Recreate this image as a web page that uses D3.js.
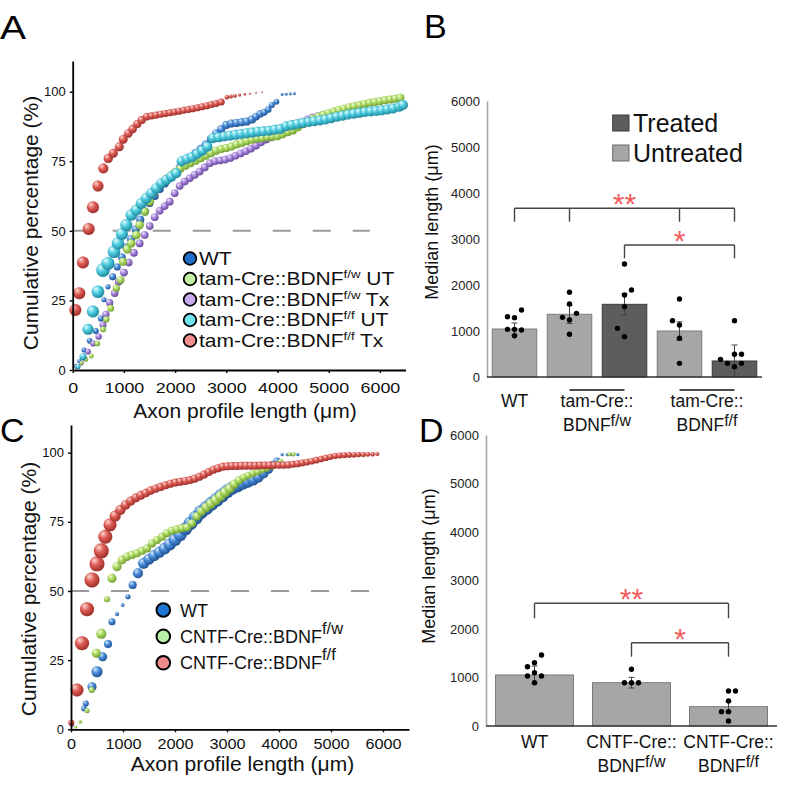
<!DOCTYPE html>
<html><head><meta charset="utf-8">
<script src="https://cdn.jsdelivr.net/npm/d3@7"></script>
<style>body{margin:0;background:#fff}svg{display:block;font-family:"Liberation Sans",Arial,Helvetica,sans-serif}</style>
</head><body><svg id="fig" width="800" height="787"></svg>
<script>
// ---------------- DATA ----------------
// Panel A : cumulative distributions  [length (um), cumulative %, bubble size]
const aWT = [[60,1.5,2],[130,3.2,2.2],[221,7.2,2.5],[330,10.5,2.8],[450,14.0,3],[550,18.5,3],[611,25.2,2.5],[689,29.9,2.5],[780,33.5,3.5],[870,37.0,3.5],[960,40.5,3.8],[1050,44.0,4],[1140,47.0,4],[1230,50.5,4],[1320,54.0,4],[1410,57.0,4],[1500,60.0,4],[1600,62.5,4],[1700,65.0,4],[1800,67.0,4],[1900,69.0,4],[2000,71.0,4],[2100,73.0,4],[2200,75.0,4],[2300,76.5,4],[2400,78.0,4],[2500,79.5,4],[2600,81.0,4],[2700,83.0,4],[2800,85.0,4],[2900,86.5,4],[3000,88.0,4],[3100,88.6,4],[3200,88.8,4],[3300,89.0,4],[3400,89.3,4],[3500,90.0,4],[3580,91.0,3.8],[3660,92.0,3.6],[3740,92.6,3.4],[3820,93.6,3.2],[3890,95.2,3],[3980,96.4,2.8],[4090,99.0,1.4],[4170,99.1,1.4],[4250,99.2,1.4],[4330,99.3,1.4]];
const aFwUT = [[90,1.0,1.8],[170,2.5,2],[260,3.8,2.2],[364,5.0,2.4],[480,9.5,2.8],[592,14.6,3],[657,18.2,3.2],[742,22.2,3.4],[852,29.4,3.6],[937,32.3,3.8],[982,38.9,4],[1066,43.4,4.2],[1145,45.5,4.2],[1243,48.5,4.2],[1308,52.1,4.2],[1406,56.9,4.2],[1504,60.5,4.2],[1568,63.5,4.2],[1650,65.5,4],[1740,67.3,4],[1830,68.8,4],[1920,70.0,4],[2010,71.2,4],[2100,72.3,4],[2200,73.4,4],[2300,74.3,4],[2400,75.2,4],[2500,76.1,4],[2600,77.0,4],[2700,77.9,4],[2800,78.8,4],[2900,79.4,4],[3000,79.8,4],[3100,80.3,4],[3200,81.0,4],[3300,81.6,4],[3400,82.2,4],[3500,82.7,4],[3600,83.1,4],[3700,83.3,4],[3800,83.6,4],[3900,83.8,4],[4000,84.0,4],[4100,84.7,4],[4200,85.4,4],[4300,86.1,4],[4400,87.2,4],[4500,88.3,4],[4600,89.4,4],[4700,90.3,4],[4800,91.0,4],[4900,91.7,4],[5000,92.3,4],[5100,92.9,4],[5200,93.4,4],[5300,93.9,4],[5400,94.4,4],[5500,94.8,4],[5600,95.2,4],[5700,95.6,4],[5800,96.0,4],[5900,96.3,4],[6000,96.6,4],[6100,96.9,4],[6200,97.2,4],[6300,97.5,4],[6400,97.8,4]];
const aFwTx = [[70,1.0,1.8],[168,2.4,2.2],[240,4.0,2.5],[299,6.6,2.8],[400,9.5,3],[507,12.0,3.2],[592,16.2,3.4],[650,20.0,3.5],[722,24.2,3.6],[820,27.6,3.7],[898,31.7,3.8],[1002,35.0,3.8],[1094,38.6,3.8],[1197,42.1,3.8],[1308,45.5,3.8],[1406,48.5,3.8],[1504,51.7,3.8],[1602,54.9,3.8],[1699,57.2,3.8],[1797,58.9,3.8],[1895,60.5,3.8],[1992,63.5,3.8],[2090,66.1,3.8],[2188,67.7,3.8],[2285,68.9,3.8],[2383,70.1,3.8],[2480,71.3,3.8],[2580,72.8,3.8],[2680,74.3,3.8],[2780,75.0,3.8],[2880,75.3,3.8],[2980,75.6,3.8],[3080,76.2,3.8],[3180,77.0,3.8],[3280,77.8,3.8],[3380,78.6,3.8],[3480,79.5,3.8],[3580,80.6,3.8],[3680,81.8,3.8],[3780,82.8,3.8],[3880,83.6,3.8],[3980,84.3,3.8],[4080,85.2,3.8],[4180,86.2,3.8],[4280,87.2,3.8],[4380,88.2,3.8],[4480,89.2,3.8],[4580,90.0,3.8],[4680,90.7,3.8],[4780,91.2,3.8],[4880,91.6,3.8],[4980,92.0,3.8],[5080,92.3,3.8],[5180,92.6,3.8],[5300,92.9,3.8]];
const aFfUT = [[104,1.2,2.5],[201,4.8,3.5],[299,14.6,5.5],[396,21.0,6],[494,28.1,6.3],[592,35.9,6.8],[689,38.3,6.5],[807,42.5,6.3],[885,45.5,6.2],[963,48.9,6],[1047,52.1,6],[1145,55.7,5.8],[1243,57.5,5.6],[1340,59.9,5.5],[1438,61.7,5.4],[1535,63.5,5.3],[1633,65.3,5.2],[1730,67.1,5.1],[1828,68.3,5],[1926,69.5,5],[2023,70.7,5],[2129,75.0,5],[2230,75.8,5],[2330,76.5,5],[2430,77.6,5],[2530,78.8,5],[2630,80.2,5],[2740,83.3,5],[2850,83.6,5],[2960,83.9,5],[3070,84.2,5],[3180,84.5,5],[3290,84.8,5],[3400,85.1,5],[3510,85.3,5],[3620,85.6,5],[3730,85.8,5],[3840,86.0,5],[3950,86.3,5],[4060,86.6,5],[4170,87.6,5],[4280,88.0,5],[4390,88.4,5],[4500,88.8,5],[4610,89.1,5],[4720,89.4,5],[4830,89.7,5],[4940,90.0,5],[5050,90.5,5],[5160,91.0,5],[5270,91.4,5],[5380,91.8,5],[5490,92.1,5],[5600,92.4,5],[5710,92.7,5],[5820,92.9,5],[5930,93.1,5],[6040,93.3,5],[6150,93.6,5],[6260,94.0,5],[6380,94.6,5],[6450,95.2,5]];
const aFfTx = [[52,21.6,6],[129,27.6,6],[201,38.6,6],[312,50.7,6],[396,58.5,6],[494,66.1,5.5],[598,72.4,5],[695,76.0,4.6],[793,77.9,4.5],[910,80.2,4.5],[988,82.9,4.4],[1086,85.0,4.3],[1172,86.6,4.2],[1262,88.4,4],[1348,89.8,4],[1445,91.0,3.8],[1540,91.3,3.6],[1630,91.6,3.6],[1720,91.9,3.5],[1810,92.2,3.5],[1900,92.4,3.5],[1990,92.7,3.5],[2080,93.0,3.5],[2170,93.3,3.5],[2260,93.6,3.5],[2350,93.9,3.5],[2440,94.2,3.5],[2530,94.6,3.5],[2620,95.0,3.5],[2710,95.4,3.5],[2800,95.8,3.5],[2900,96.3,3.5],[3010,98.0,2.2],[3090,98.3,2],[3170,98.5,1.8],[3260,98.8,1.5],[3360,99.1,1.2],[3460,99.3,1],[3580,99.6,0.9],[3700,99.8,0.8]];

// Panel C : cumulative distributions
const cWT = [[19,1.6,2],[250,7.5,2.8],[285,9.3,3],[404,15.4,4.5],[500,20.8,5.5],[609,26.2,4.5],[712,30.8,4],[788,38.9,3.5],[885,41.7,2],[994,44.9,1.8],[1096,47.9,2.5],[1186,52.2,4],[1288,56.4,5],[1397,60.0,5.5],[1500,61.5,5.5],[1600,62.8,5.5],[1700,64.0,5.5],[1800,65.3,5.8],[1900,66.8,6],[2000,68.5,6.2],[2100,70.3,6.4],[2200,72.5,6.6],[2300,74.5,6.8],[2400,76.5,7],[2500,78.5,7],[2600,80.0,7],[2700,81.5,7],[2800,83.0,7],[2900,84.5,7],[3000,86.0,6.8],[3100,87.2,6.6],[3200,88.0,6.4],[3300,88.8,6.2],[3400,89.5,6],[3500,90.2,5.8],[3600,91.2,5.5],[3700,92.5,5],[3800,94.0,4.5],[3880,95.5,4],[3960,97.0,3.5],[4060,99.3,1.6],[4160,99.3,1.6],[4260,99.3,1.6],[4360,99.3,1.6]];
const cFw = [[90,0.8,1.5],[179,2.7,1.8],[308,6.7,2.5],[398,14.2,3],[487,27.5,4.5],[583,34.5,5],[692,47.0,3],[788,54.6,4.5],[885,58.8,4.5],[981,61.2,4.3],[1077,62.4,4.2],[1173,63.0,4.1],[1269,63.6,4],[1365,64.5,4],[1462,65.4,4],[1558,67.2,4],[1654,68.4,4],[1750,69.6,4],[1846,70.9,4],[1942,71.8,4],[2038,72.3,4],[2135,72.7,4],[2231,73.0,4],[2327,74.5,4],[2420,77.0,4.2],[2510,78.8,4.4],[2600,80.2,4.6],[2690,81.5,4.8],[2780,82.8,5],[2870,84.2,5],[2960,85.6,5],[3050,87.0,4.8],[3140,88.6,4.5],[3230,90.0,4.2],[3320,91.0,3.8],[3410,91.8,3.6],[3500,92.5,3.5],[3590,93.1,3.4],[3680,93.7,3.3],[3770,94.3,3.2],[3860,95.0,3.1],[3950,95.8,3],[4030,96.7,2.8],[4200,99.4,2],[4280,99.4,2]];
const cFf = [[6,2.4,3],[115,14.2,6.5],[212,31.1,7],[308,43.4,7],[404,54.0,7.5],[500,59.8,7.5],[583,64.5,7.5],[660,69.6,7],[750,73.9,6.5],[850,77.1,5.5],[950,79.3,5],[1050,81.1,4.8],[1150,82.5,4.6],[1250,83.7,4.5],[1345,84.6,4.4],[1440,85.4,4.3],[1535,86.3,4.2],[1630,87.0,4.2],[1725,87.6,4.1],[1820,88.2,4],[1915,88.8,4],[2010,89.2,4],[2105,89.5,4],[2200,89.8,4],[2290,90.1,4],[2380,90.6,4],[2470,91.3,4],[2560,92.1,4],[2650,93.0,4],[2740,93.8,4],[2830,94.4,4],[2920,94.9,4],[3010,95.1,4],[3100,95.2,4],[3190,95.2,4],[3280,95.3,4],[3370,95.3,4],[3460,95.3,4],[3550,95.3,3.9],[3640,95.4,3.9],[3730,95.4,3.8],[3820,95.4,3.8],[3910,95.5,3.7],[4000,95.5,3.7],[4090,95.5,3.6],[4180,95.6,3.6],[4270,95.8,3.5],[4360,96.0,3.5],[4450,96.3,3.4],[4540,96.6,3.4],[4630,96.9,3.3],[4720,97.3,3.3],[4810,97.7,3.2],[4900,98.1,3.2],[4990,98.5,3.1],[5080,98.8,3],[5170,99.0,3],[5260,99.1,2.9],[5350,99.2,2.8],[5440,99.2,2.7],[5530,99.3,2.6],[5620,99.3,2.5],[5710,99.4,2.4],[5800,99.4,2.2],[5890,99.5,2]];

const cumTicksX = [0,1000,2000,3000,4000,5000,6000];
const cumTicksY = [0,25,50,75,100];

const legendANames = [["WT"],["tam-Cre::BDNF","f/w"," UT"],["tam-Cre::BDNF","f/w"," Tx"],["tam-Cre::BDNF","f/f"," UT"],["tam-Cre::BDNF","f/f"," Tx"]];
const legendCNames = [["WT"],["CNTF-Cre::BDNF","f/w"],["CNTF-Cre::BDNF","f/f"]];

// Panel B : medians
const bGroups = ["WT","tam-Cre::BDNFf/w UT","tam-Cre::BDNFf/w Tx","tam-Cre::BDNFf/f UT","tam-Cre::BDNFf/f Tx"];
const bTreated = [false,false,true,false,true];
const bMedian = [1043,1363,1580,1000,348];
const bError = [130,200,235,200,348];
// individual animals: [value, jitter slot]
const bDots = [
  [[1311,-1],[1290,0],[1457,1],[1036,-1],[1036,0],[1022,1],[898,0]],
  [[1841,0],[1587,0],[1297,-1],[1239,0],[1384,1],[928,0]],
  [[2457,0],[1891,1],[1783,0],[1529,0],[1058,-1],[877,0]],
  [[1696,0],[1225,-1],[1131,0],[841,0],[297,0]],
  [[1225,0],[384,-2],[297,-1],[493,0],[493,1],[225,0],[297,1]]
];
const bLabelTop = ["WT","tam-Cre::","tam-Cre::"];
const bLabelBase = ["","BDNF","BDNF"];
const bLabelSup = ["","f/w","f/f"];
const bLabelSpan = [[0,0],[1,2],[3,4]];
const bSig = [{from:0, to:4, mids:[1,3], level:3667, drop:3376, mark:"**"},
              {from:2, to:4, mids:[], level:2870, drop:2580, mark:"*"}];
const bLegend = ["Treated","Untreated"];

// Panel D : medians
const dGroups = ["WT","CNTF-Cre::BDNFf/w","CNTF-Cre::BDNFf/f"];
const dMedian = [1052,893,399];
const dError = [185,110,103];
const dDots = [
  [[1223,-1],[1306,0],[1464,1],[1031,-1],[1100,0],[1031,1],[893,0]],
  [[1169,0],[893,-1],[893,0],[893,1]],
  [[722,0],[722,1],[515,0],[296,-1],[296,0],[103,0]]
];
const dLabelTop = ["WT","CNTF-Cre::","CNTF-Cre::"];
const dLabelBase = ["","BDNF","BDNF"];
const dLabelSup = ["","f/w","f/f"];
const dSig = [{from:0, to:2, mids:[], level:2530, drop:2221, mark:"**"},
              {from:1, to:2, mids:[], level:1718, drop:1429, mark:"*"}];
const medianTicks = [0,1000,2000,3000,4000,5000,6000];

// ---------------- DRAW ----------------
const svg = d3.select("#fig");
const defs = svg.append("defs");
const sphere = {
  blue:   ["#d9eafc","#4a8edb","#1a4a88"],
  green:  ["#f3ffd6","#aedb66","#6a962a"],
  purple: ["#efe5ff","#a888dc","#5d3e92"],
  cyan:   ["#e4fdff","#4fcde0","#1a7f94"],
  red:    ["#ffd8d4","#dc5a53","#962a26"]
};
Object.entries(sphere).forEach(([k,c])=>{
  const g = defs.append("radialGradient").attr("id","sp_"+k)
    .attr("cx","40%").attr("cy","36%").attr("r","70%").attr("fx","32%").attr("fy","26%");
  g.append("stop").attr("offset","0%").attr("stop-color",c[0]);
  g.append("stop").attr("offset","45%").attr("stop-color",c[1]);
  g.append("stop").attr("offset","100%").attr("stop-color",c[2]);
});
const rScale = d3.scaleLinear().domain([0,10]).range([0,10]);
const FONT = '"Liberation Sans",Arial,Helvetica,sans-serif';
const intFmt = d3.format("d");

function cumPanel(cfg){
  const {x,y,series,tickStretch,tickY,tickFont,xTitleY,yTitleX,yTitleCY,xTitleCX} = cfg;
  const g = svg.append("g");
  g.append("line").attr("x1",x(0)).attr("x2",x(5800)).attr("y1",y(50)).attr("y2",y(50))
    .attr("stroke","#9a9a9a").attr("stroke-width",2).attr("stroke-dasharray","18,22");
  series.forEach(s=>{
    g.append("g").selectAll("circle").data(s.data).join("circle")
      .attr("cx",d=>x(d[0])).attr("cy",d=>y(d[1])).attr("r",d=>rScale(d[2]))
      .attr("fill","url(#sp_"+s.color+")").attr("stroke",sphere[s.color][2]).attr("stroke-opacity",0.25).attr("stroke-width",0.5);
  });
  const ax = g.append("g").attr("transform",`translate(0,${y(0)})`)
    .call(d3.axisBottom(x).tickValues(cumTicksX).tickSize(3).tickSizeOuter(0).tickFormat(intFmt));
  ax.selectAll("text").attr("y",tickY).attr("font-size",tickFont).attr("font-family",FONT).attr("fill","#111")
    .attr("transform",`scale(${tickStretch},1)`);
  const ay = g.append("g").attr("transform",`translate(${x(0)},0)`)
    .call(d3.axisLeft(y).tickValues(cumTicksY).tickSize(3).tickPadding(4).tickSizeOuter(0).tickFormat(intFmt));
  ay.selectAll("text").attr("font-size",13).attr("font-family",FONT).attr("fill","#111");
  [ax,ay].forEach(a=>{a.select(".domain").attr("stroke","#000").attr("stroke-width",1.8);
    a.selectAll(".tick line").attr("stroke","#000").attr("stroke-width",1.4);});
  g.append("text").attr("x",xTitleCX).attr("y",xTitleY).attr("text-anchor","middle")
    .attr("font-size",21).attr("fill","#111").text("Axon profile length (\u03bcm)");
  g.append("text").attr("transform",`translate(${yTitleX},${yTitleCY}) rotate(-90)`).attr("text-anchor","middle")
    .attr("font-size",21).attr("fill","#111").text("Cumulative percentage (%)");
  return g;
}

// Panel A
const xA = d3.scaleLinear().domain([0,6500]).range([72.7,405.5]);
const yA = d3.scaleLinear().domain([0,111]).range([370,61.1]);
cumPanel({x:xA,y:yA,tickStretch:1.28,tickY:13.5,tickFont:14,xTitleY:417.5,xTitleCX:245,yTitleX:38,yTitleCY:223,
  series:[{data:aWT,color:"blue"},{data:aFwTx,color:"purple"},{data:aFwUT,color:"green"},{data:aFfUT,color:"cyan"},{data:aFfTx,color:"red"}]});
const legAFill = ["#1f6fc9","#c2f0a2","#c9a9f0","#70e6f0","#f29090"];
const legA = svg.append("g");
legendANames.forEach((parts,i)=>{
  const cy = 258.5 + i*20.5;
  legA.append("circle").attr("cx",190).attr("cy",cy).attr("r",6.3).attr("fill",legAFill[i]).attr("stroke","#000").attr("stroke-width",1.8);
  const t = legA.append("text").attr("transform",`translate(199,${cy+6.3}) scale(1.2,1)`).attr("font-size",17.5).attr("fill","#111");
  t.append("tspan").text(parts[0]);
  if(parts.length>1){
    t.append("tspan").attr("font-size",11).attr("dy",-7).text(parts[1]);
    t.append("tspan").attr("font-size",17.5).attr("dy",7).text(parts[2]);
  }
});

// Panel C
const xC = d3.scaleLinear().domain([0,6500]).range([71,409]);
const yC = d3.scaleLinear().domain([0,110]).range([729.3,425]);
cumPanel({x:xC,y:yC,tickStretch:1.12,tickY:9,tickFont:14.5,xTitleY:771,xTitleCX:242.5,yTitleX:36,yTitleCY:589,
  series:[{data:cWT,color:"blue"},{data:cFw,color:"green"},{data:cFf,color:"red"}]});
const legCFill = ["#1e77d3","#b9f0a8","#f08a8a"];
const legC = svg.append("g");
legendCNames.forEach((parts,i)=>{
  const cy = 610 + i*26.4;
  legC.append("circle").attr("cx",163.3).attr("cy",cy).attr("r",6.8).attr("fill",legCFill[i]).attr("stroke","#000").attr("stroke-width",2);
  const t = legC.append("text").attr("x",180).attr("y",cy+6.5).attr("font-size",18).attr("fill","#111");
  t.append("tspan").text(parts[0]);
  if(parts.length>1) t.append("tspan").attr("font-size",16.5).attr("dy",-9).text(parts[1]);
});

// Bar panels
function barPanel(cfg){
  const {x,y,groups,median,error,dots,treated,labelTop,labelBase,labelSup,labelSpan,sig,titleX,titleCY,lab1Y,lab2Y,overY} = cfg;
  const g = svg.append("g");
  const ay = g.append("g").attr("transform",`translate(${x.range()[0]},0)`)
    .call(d3.axisLeft(y).tickValues(medianTicks).tickSize(0).tickPadding(7).tickSizeOuter(0).tickFormat(intFmt));
  ay.select(".domain").attr("stroke","#a8a8a8").attr("stroke-width",1.6);
  ay.selectAll("text").attr("font-size",13).attr("font-family",FONT).attr("fill","#222");
  const idx = d3.range(groups.length);
  g.selectAll("rect.bar").data(idx).join("rect").attr("class","bar")
    .attr("x",i=>x(i)).attr("width",x.bandwidth()).attr("y",i=>y(median[i])).attr("height",i=>y(0)-y(median[i]))
    .attr("fill",i=>treated[i]?"#5d5d5d":"#a6a6a6").attr("stroke",i=>treated[i]?"#3c3c3c":"#7c7c7c").attr("stroke-width",1);
  idx.forEach(i=>{
    const cx = x(i)+x.bandwidth()/2;
    const lo = Math.max(0, median[i]-error[i]), hi = median[i]+error[i];
    g.append("line").attr("x1",cx).attr("x2",cx).attr("y1",y(lo)).attr("y2",y(hi)).attr("stroke","#444").attr("stroke-width",1);
    g.append("line").attr("x1",cx-3).attr("x2",cx+3).attr("y1",y(hi)).attr("y2",y(hi)).attr("stroke","#444").attr("stroke-width",1);
    if(lo>0) g.append("line").attr("x1",cx-3).attr("x2",cx+3).attr("y1",y(lo)).attr("y2",y(lo)).attr("stroke","#444").attr("stroke-width",1);
    g.append("g").selectAll("circle").data(dots[i]).join("circle")
      .attr("cx",d=>cx+d[1]*7).attr("cy",d=>y(d[0])).attr("r",2.7).attr("fill","#000");
  });
  g.append("line").attr("x1",x.range()[0]).attr("x2",x.range()[1]).attr("y1",y(0)).attr("y2",y(0))
    .attr("stroke","#333").attr("stroke-width",1.6);
  labelSpan.forEach((sp,j)=>{
    const c0 = x(sp[0])+x.bandwidth()/2, c1 = x(sp[1])+x.bandwidth()/2, cx=(c0+c1)/2;
    if(sp[1]>sp[0] && overY) g.append("line").attr("x1",c0).attr("x2",c1).attr("y1",overY).attr("y2",overY).attr("stroke","#111").attr("stroke-width",1.3);
    g.append("text").attr("x",cx).attr("y",lab1Y).attr("text-anchor","middle").attr("font-size",17.5).attr("fill","#111").text(labelTop[j]);
    if(labelBase[j]){
      const t = g.append("text").attr("x",cx).attr("y",lab2Y).attr("text-anchor","middle").attr("font-size",17.5).attr("fill","#111");
      t.append("tspan").text(labelBase[j]);
      t.append("tspan").attr("font-size",16).attr("dy",-5).text(labelSup[j]);
    }
  });
  sig.forEach(s=>{
    const cxs = [s.from, ...s.mids, s.to].map(i=>x(i)+x.bandwidth()/2);
    const yl = y(s.level), yd = y(s.drop);
    g.append("line").attr("x1",cxs[0]).attr("x2",cxs[cxs.length-1]).attr("y1",yl).attr("y2",yl).attr("stroke","#444").attr("stroke-width",1.4);
    cxs.forEach(c=>g.append("line").attr("x1",c).attr("x2",c).attr("y1",yl).attr("y2",yd).attr("stroke","#444").attr("stroke-width",1.4));
    const mid = (cxs[0]+cxs[cxs.length-1])/2;
    g.append("text").attr("x",mid).attr("y",yl-11+0.57*30).attr("text-anchor","middle").attr("font-size",30)
      .attr("fill","#f25c5c").text(s.mark);
  });
  g.append("text").attr("transform",`translate(${titleX},${titleCY}) rotate(-90)`).attr("text-anchor","middle")
    .attr("font-size",18).attr("fill","#111").text("Median length (\u03bcm)");
  return g;
}

const xB = d3.scaleBand().domain(d3.range(bGroups.length)).range([487,762]).paddingInner(0.19).paddingOuter(0.095);
const yB = d3.scaleLinear().domain([0,6000]).range([377,101]);
barPanel({x:xB,y:yB,groups:bGroups,median:bMedian,error:bError,dots:bDots,treated:bTreated,
  labelTop:bLabelTop,labelBase:bLabelBase,labelSup:bLabelSup,labelSpan:bLabelSpan,sig:bSig,
  titleX:438,titleCY:222,lab1Y:407,lab2Y:431,overY:390});
const legB = svg.append("g");
bLegend.forEach((name,i)=>{
  const yy = 115 + i*30;
  legB.append("rect").attr("x",612.7).attr("y",yy).attr("width",16.3).attr("height",16)
    .attr("fill",i===0?"#5d5d5d":"#a6a6a6").attr("stroke",i===0?"#3c3c3c":"#6a6a6a").attr("stroke-width",1);
  legB.append("text").attr("x",633).attr("y",yy+16.8).attr("font-size",25).attr("fill","#111").text(name);
});

const xD = d3.scaleBand().domain(d3.range(dGroups.length)).range([486,777]).paddingInner(0.196).paddingOuter(0.098);
const yD = d3.scaleLinear().domain([0,6000]).range([726,435]);
barPanel({x:xD,y:yD,groups:dGroups,median:dMedian,error:dError,dots:dDots,treated:[false,false,false],
  labelTop:dLabelTop,labelBase:dLabelBase,labelSup:dLabelSup,labelSpan:[[0,0],[1,1],[2,2]],sig:dSig,
  titleX:435,titleCY:566,lab1Y:748,lab2Y:772,overY:null});

[["A",0,39,1.15],["B",424,38,1],["C",0,441.5,1],["D",419,441.5,1]].forEach(p=>{
  svg.append("text").attr("transform",`translate(${p[1]},${p[2]}) scale(${p[3]},1)`).attr("font-size",34).attr("fill","#000").text(p[0]);
});
</script></body></html>
